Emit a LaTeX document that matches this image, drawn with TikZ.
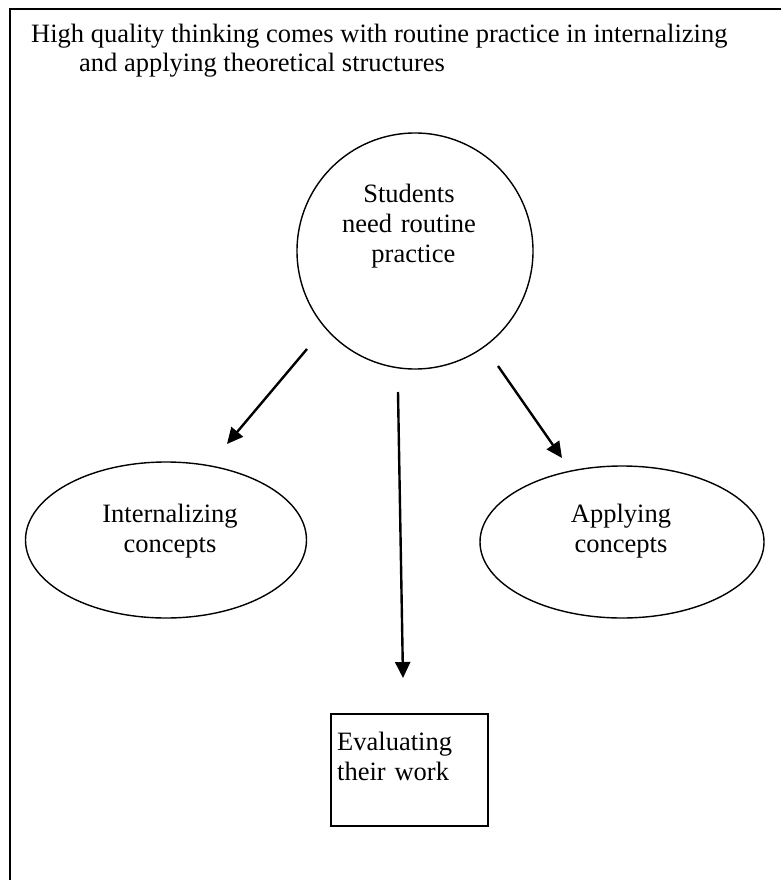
\documentclass[tikz,border=0pt]{standalone}
\usepackage{fontspec}
\setmainfont{Liberation Serif}
\usetikzlibrary{shapes.geometric,arrows.meta}
\begin{document}
\begin{tikzpicture}[x=1pt,y=-1pt,
  txt/.style={font=\fontsize{26.5}{30}\selectfont, inner sep=0pt},
  blk/.style={txt, align=center, text width=220pt, anchor=base},
  shp/.style={draw, line width=1.4pt, inner sep=0pt},
  arr/.style={line width=2.4pt, -{Triangle[length=16pt,width=15pt]}}]
\useasboundingbox (0,0) rectangle (781,880);
\clip (0,0) rectangle (781,880);
\draw[line width=2pt] (10,900) -- (10,9) -- (800,9);
\node[txt, anchor=base west] (title1) at (31,43) {High quality thinking comes with routine practice in internalizing};
\node[txt, anchor=base west] (title2) at (79,72) {and applying theoretical structures};
% shapes
\node[shp, circle, minimum size=236pt] (stu) at (415,251) {};
\node[blk] (stut) at (409,202) {Students\\need routine\\\ practice};
\node[shp, ellipse, minimum width=281pt, minimum height=156pt] (int) at (166,540) {};
\node[blk] (intt) at (170,522) {Internalizing\\concepts};
\node[shp, ellipse, minimum width=284pt, minimum height=152pt] (app) at (622,542) {};
\node[blk] (appt) at (621,522) {Applying\\concepts};
\node[shp, rectangle, minimum width=157pt, minimum height=112pt] (eva) at (409.5,770) {};
\node[txt, align=left, text width=150pt, anchor=base west] (evat) at (337,750) {Evaluating\\their work};
% arrows
\coordinate (a1s) at (307,349); \coordinate (a1e) at (227,444);
\coordinate (a2s) at (398,392); \coordinate (a2e) at (403,678);
\coordinate (a3s) at (498,366); \coordinate (a3e) at (562,458);
\draw[arr] (a1s) -- (a1e);
\draw[arr] (a2s) -- (a2e);
\draw[arr] (a3s) -- (a3e);
\end{tikzpicture}
\end{document}
